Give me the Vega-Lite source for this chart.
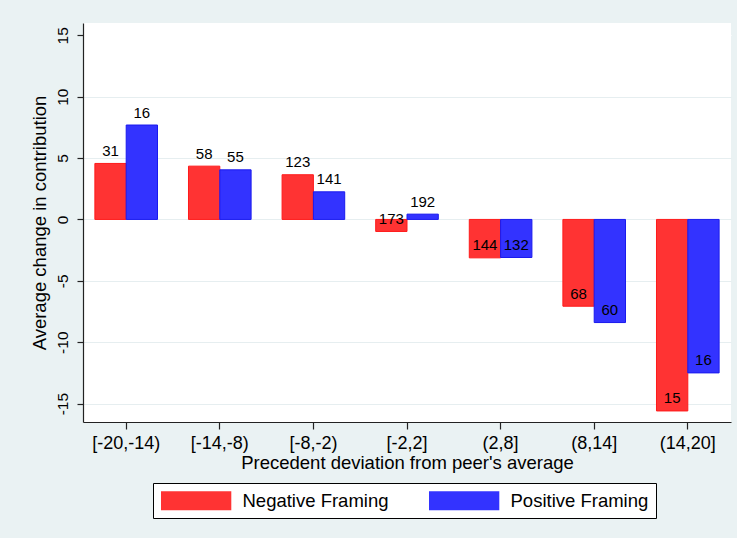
{
  "$schema": "https://vega.github.io/schema/vega-lite/v6.json",
  "autosize": "none",
  "width": 648,
  "height": 399,
  "padding": {"left": 83, "top": 23, "right": 6, "bottom": 116},
  "background": "#eaf2f3",
  "view": {"fill": "white", "stroke": null},
  "config": {
    "font": "Liberation Sans",
    "axis": {"labelColor": "black", "titleColor": "black", "titleFontWeight": "normal", "domainColor": "#222", "tickColor": "#222", "domainWidth": 1.2, "tickWidth": 1.2},
    "legend": {"labelColor": "black"}
  },
  "data": {
    "values": [
      {"bin": "[-20,-14)", "framing": "Negative Framing", "value": 4.56, "n": 31},
      {"bin": "[-20,-14)", "framing": "Positive Framing", "value": 7.69, "n": 16},
      {"bin": "[-14,-8)", "framing": "Negative Framing", "value": 4.34, "n": 58},
      {"bin": "[-14,-8)", "framing": "Positive Framing", "value": 4.04, "n": 55},
      {"bin": "[-8,-2)", "framing": "Negative Framing", "value": 3.64, "n": 123},
      {"bin": "[-8,-2)", "framing": "Positive Framing", "value": 2.25, "n": 141},
      {"bin": "[-2,2]", "framing": "Negative Framing", "value": -0.98, "n": 173},
      {"bin": "[-2,2]", "framing": "Positive Framing", "value": 0.43, "n": 192},
      {"bin": "(2,8]", "framing": "Negative Framing", "value": -3.13, "n": 144},
      {"bin": "(2,8]", "framing": "Positive Framing", "value": -3.10, "n": 132},
      {"bin": "(8,14]", "framing": "Negative Framing", "value": -7.07, "n": 68},
      {"bin": "(8,14]", "framing": "Positive Framing", "value": -8.40, "n": 60},
      {"bin": "(14,20]", "framing": "Negative Framing", "value": -15.6, "n": 15},
      {"bin": "(14,20]", "framing": "Positive Framing", "value": -12.5, "n": 16}
    ]
  },
  "encoding": {
    "x": {
      "field": "bin", "type": "nominal",
      "sort": ["[-20,-14)", "[-14,-8)", "[-8,-2)", "[-2,2]", "(2,8]", "(8,14]", "(14,20]"],
      "scale": {"paddingInner": 0.331, "paddingOuter": 0.127},
      "axis": {"title": "Precedent deviation from peer's average", "labelAngle": 0, "labelFontSize": 18, "titleFontSize": 18.5, "tickSize": 7, "labelPadding": 5, "titlePadding": 1}
    },
    "xOffset": {"field": "framing", "type": "nominal", "sort": ["Negative Framing", "Positive Framing"], "scale": {"paddingInner": 0, "paddingOuter": 0}},
    "y": {
      "field": "value", "type": "quantitative",
      "scale": {"domain": [-16.5, 16.0], "nice": false, "zero": false},
      "axis": {
        "title": "Average change in contribution",
        "values": [-15, -10, -5, 0, 5, 10, 15],
        "labelExpr": "'' + datum.value",
        "labelAngle": 270, "labelAlign": "center", "labelBaseline": "bottom",
        "labelFontSize": 15.5, "titleFontSize": 18.5, "tickSize": 6, "labelPadding": 7, "titlePadding": 6,
        "grid": true,
        "gridColor": {"condition": {"test": "datum.value == 15", "value": "white"}, "value": "#e6eef0"},
        "gridWidth": 1.2
      }
    }
  },
  "layer": [
    {
      "mark": {"type": "bar", "strokeWidth": 1},
      "encoding": {
        "fill": {"field": "framing", "type": "nominal", "sort": ["Negative Framing", "Positive Framing"], "scale": {"range": ["#ff3333", "#3333ff"]},
          "legend": {
            "title": null, "orient": "none", "legendX": 70, "legendY": 460, "direction": "horizontal",
            "strokeColor": "black", "fillColor": "white", "padding": 7.5,
            "symbolType": "M-1,-1L6.4,-1L6.4,1L-1,1Z", "symbolSize": 361, "symbolStrokeWidth": 1,
            "labelFontSize": 18.5, "labelOffset": 62, "columnPadding": 39
          }
        },
        "stroke": {"field": "framing", "type": "nominal", "sort": ["Negative Framing", "Positive Framing"], "scale": {"range": ["#ff1a1a", "#1a1aee"]}}
      }
    },
    {
      "mark": {"type": "text", "baseline": "middle", "align": "center", "dy": -12.5, "fontSize": 15, "color": "black"},
      "encoding": {"text": {"field": "n", "type": "quantitative"}}
    }
  ]
}
